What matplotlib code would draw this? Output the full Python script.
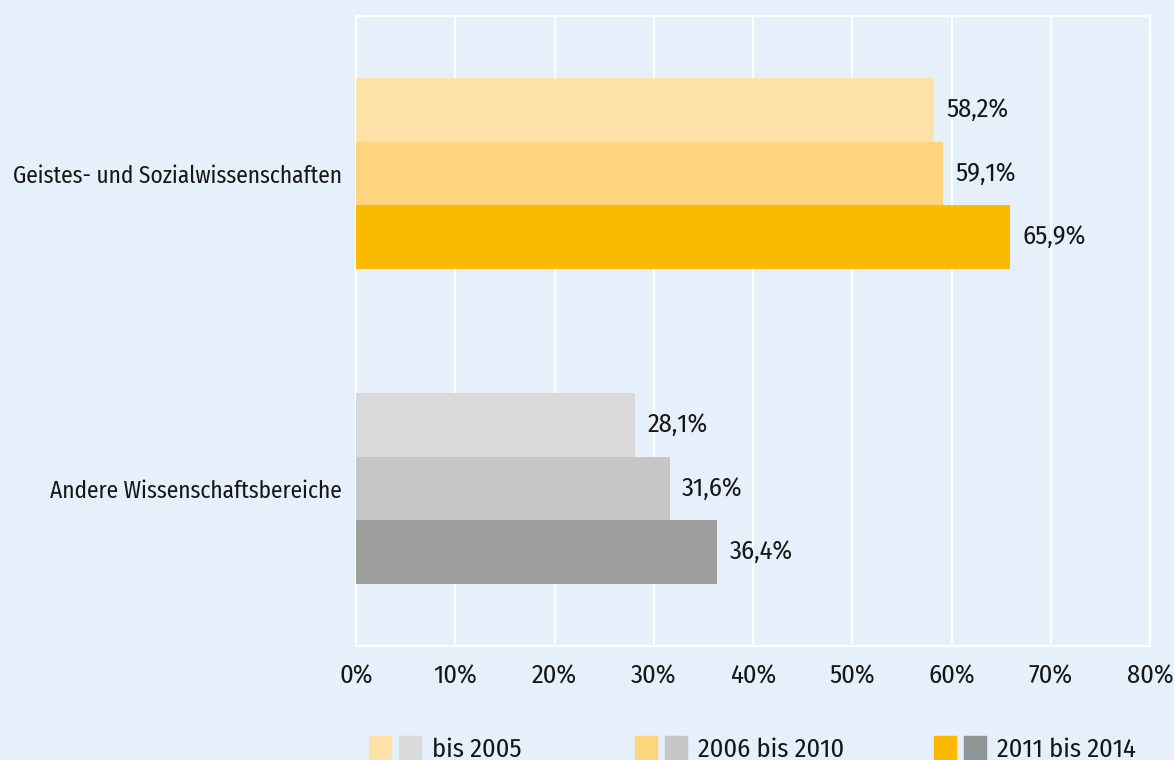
import matplotlib.pyplot as plt
import numpy as np
from matplotlib.patches import Rectangle

plt.rcParams['font.family'] = ['Fira Sans Condensed', 'Liberation Sans', 'DejaVu Sans']

categories = ['Geistes- und Sozialwissenschaften', 'Andere Wissenschaftsbereiche']
periods = ['bis 2005', '2006 bis 2010', '2011 bis 2014']
values = {
    'bis 2005': [58.2, 28.1],
    '2006 bis 2010': [59.1, 31.6],
    '2011 bis 2014': [65.9, 36.4],
}
yellow = ['#FFE2A8', '#FED57D', '#FBBA00']
grey = ['#DADADA', '#C6C6C6', '#9D9D9C']
legend_grey = ['#DADADA', '#C6C6C6', '#8F9496']
bg = '#E5F0FA'
fs_cat = 16.8
fs_num = 19
tc = '#161616'

fig = plt.figure(figsize=(11.74, 7.6), dpi=100)
fig.patch.set_facecolor(bg)
ax = fig.add_axes([356/1174, 1-646/760, (1150-356)/1174, 630/760])
ax.set_facecolor(bg)

h = 0.2016
offsets = [-h, 0, h]
y = np.arange(len(categories))
for i, p in enumerate(periods):
    cols = [yellow[i], grey[i]]
    bars = ax.barh(y + offsets[i], values[p], height=h, color=cols, zorder=3)
    for b, v in zip(bars, values[p]):
        ax.annotate(f'{v:.1f}%'.replace('.', ','), (b.get_width(), b.get_y() + h/2),
                    xytext=(9, 0), textcoords='offset points',
                    va='center', ha='left', fontsize=fs_num, color=tc)

ax.set_xlim(0, 80)
ax.set_ylim(1.5, -0.5)
ax.set_yticks(y)
ax.set_yticklabels(categories, fontsize=fs_cat)
ax.set_xticks(range(0, 81, 10))
ax.set_xticklabels([f'{t}%' for t in range(0, 81, 10)], fontsize=fs_num)
ax.tick_params(axis='both', length=0, colors=tc)
ax.tick_params(axis='x', pad=13)
ax.tick_params(axis='y', pad=10)
ax.grid(axis='x', color='white', linewidth=1.6, zorder=1)
for s in ax.spines.values():
    s.set_color('white')
    s.set_linewidth(1.6)

# legend drawn by hand: pairs of yellow/grey squares
leg_x = [369, 635, 934]
for i, p in enumerate(periods):
    x0 = leg_x[i]
    fig.patches.append(Rectangle((x0/1174, 1-759/760), 22/1174, 23/760,
                                 transform=fig.transFigure, color=yellow[i]))
    fig.patches.append(Rectangle(((x0+30)/1174, 1-759/760), 22/1174, 23/760,
                                 transform=fig.transFigure, color=legend_grey[i]))
    fig.text((x0+63)/1174, 1-757/760, p, fontsize=fs_num, va='baseline', ha='left',
             color=tc)

fig.savefig('out.png', dpi=100, facecolor=bg)
